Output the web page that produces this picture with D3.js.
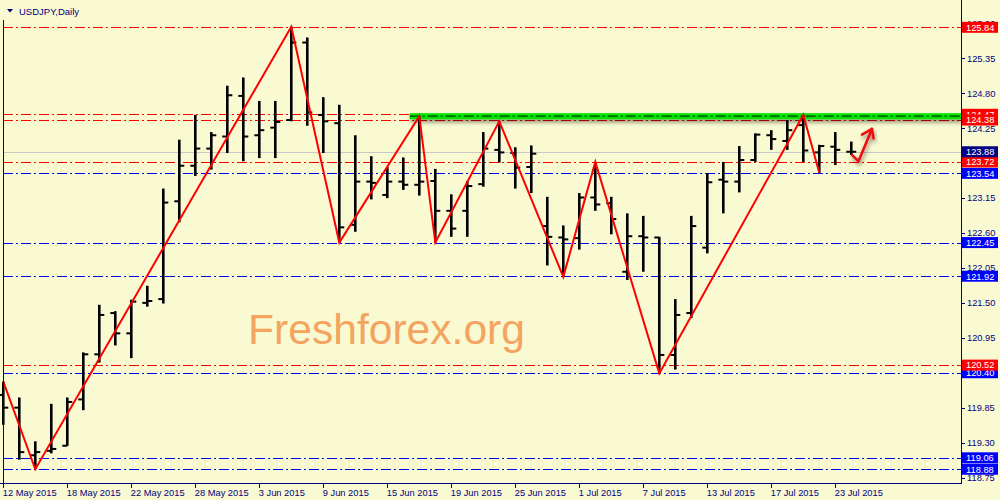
<!DOCTYPE html>
<html>
<head>
<meta charset="utf-8">
<script src="https://cdn.jsdelivr.net/npm/d3@7"></script>
<style>
  body { margin: 0; background: #fafad2; }
  svg { display: block; }
  text { font-family: "Liberation Sans", Arial, sans-serif; }
</style>
</head>
<body>
<svg width="1000" height="500"></svg>
<script>
'use strict';

const dates = [
  "12 May 2015", "13 May 2015", "14 May 2015", "15 May 2015", "18 May 2015", "19 May 2015",
  "20 May 2015", "21 May 2015", "22 May 2015", "25 May 2015", "26 May 2015", "27 May 2015",
  "28 May 2015", "29 May 2015", "1 Jun 2015", "2 Jun 2015", "3 Jun 2015", "4 Jun 2015",
  "5 Jun 2015", "8 Jun 2015", "9 Jun 2015", "10 Jun 2015", "11 Jun 2015", "12 Jun 2015",
  "15 Jun 2015", "16 Jun 2015", "17 Jun 2015", "18 Jun 2015", "19 Jun 2015", "22 Jun 2015",
  "23 Jun 2015", "24 Jun 2015", "25 Jun 2015", "26 Jun 2015", "29 Jun 2015", "30 Jun 2015",
  "1 Jul 2015", "2 Jul 2015", "3 Jul 2015", "6 Jul 2015", "7 Jul 2015", "8 Jul 2015",
  "9 Jul 2015", "10 Jul 2015", "13 Jul 2015", "14 Jul 2015", "15 Jul 2015", "16 Jul 2015",
  "17 Jul 2015", "20 Jul 2015", "21 Jul 2015", "22 Jul 2015", "23 Jul 2015", "24 Jul 2015"
];

const open = [120.05, 119.85, 119.10, 119.17, 119.25, 119.98, 120.69, 121.34, 121.02, 121.50,
  121.56, 123.10, 123.66, 123.93, 124.12, 124.76, 124.14, 124.26, 124.38, 125.60,
  124.46, 124.33, 122.73, 123.41, 123.20, 123.41, 123.36, 123.42, 122.95, 122.95,
  123.37, 123.91, 123.86, 123.64, 122.71, 122.53, 122.52, 123.16, 123.07, 121.99,
  122.55, 122.53, 120.68, 121.34, 122.37, 123.44, 123.41, 123.75, 124.14, 124.05,
  124.30, 123.87, 123.96, 123.88];
const high = [120.26, 120.01, 119.32, 119.91, 120.01, 120.72, 121.47, 121.37, 121.55, 121.77,
  123.30, 124.07, 124.46, 124.19, 124.92, 125.05, 124.68, 124.68, 125.85, 125.68,
  124.74, 124.62, 124.14, 123.81, 123.64, 123.79, 124.44, 123.61, 123.21, 123.42,
  124.19, 124.36, 123.95, 123.98, 123.17, 122.72, 123.23, 123.72, 123.17, 122.91,
  122.87, 122.54, 121.56, 122.87, 123.54, 123.72, 123.97, 124.17, 124.22, 124.38,
  124.46, 123.99, 124.19, 124.04];
const low = [119.58, 119.03, 118.88, 119.13, 119.25, 119.81, 120.56, 120.83, 120.63, 121.44,
  121.49, 122.77, 123.50, 123.60, 123.86, 123.73, 123.78, 123.78, 124.36, 124.29,
  123.86, 122.45, 122.62, 123.13, 123.15, 123.28, 123.19, 122.45, 122.54, 122.54,
  123.33, 123.71, 123.30, 123.23, 122.09, 121.91, 122.34, 122.95, 122.58, 121.86,
  121.99, 120.39, 120.45, 121.26, 122.28, 122.91, 123.24, 123.72, 123.91, 123.91,
  123.72, 123.55, 123.67, 123.83];
const close = [119.85, 119.15, 119.15, 119.20, 119.94, 120.69, 121.31, 121.02, 121.52, 121.53,
  123.08, 123.66, 123.93, 124.14, 124.77, 124.12, 124.22, 124.35, 125.60, 124.50,
  124.36, 122.69, 123.41, 123.39, 123.41, 123.36, 123.41, 122.95, 122.67, 123.34,
  123.93, 123.87, 123.63, 123.85, 122.54, 122.50, 123.16, 123.05, 122.82, 122.55,
  122.53, 120.68, 121.31, 122.71, 123.40, 123.41, 123.75, 124.15, 124.08, 124.22,
  123.90, 123.97, 123.91, 123.88];

// zigzag turning points (bar index, price)
const zzIndex = [0, 2, 18, 21, 26, 27, 31, 35, 37, 41, 50, 51];
const zzPrice = [120.26, 118.88, 125.85, 122.45, 124.44, 122.45, 124.36, 121.91, 123.72, 120.39, 124.46, 123.55];

const redLevels = [125.84, 124.47, 124.38, 123.72, 120.52];
const blueLevels = [123.54, 122.45, 121.92, 120.40, 119.06, 118.88];
const bidPrice = 123.88;
const resistance = 124.44;
const resistanceFrom = 25.4; // bar index where the green band starts

const yTicks = [118.75, 119.30, 119.85, 120.40, 120.95, 121.50, 122.05, 122.60, 123.15, 123.70, 124.25, 124.80, 125.35, 125.90];

// hand drawn arrow (bar index, price)
const arrowIdx = [53.04, 53.45, 54.29];
const arrowPx = [123.83, 123.73, 124.24];
const arrowHeadIdx = [53.67, 54.29, 54.39];
const arrowHeadPx = [124.15, 124.24, 124.09];

const svg = d3.select("svg");
const axisX = 961;
const axisY = 483;
const navy = "#000080";

const x = d3.scaleLinear().domain([0, dates.length - 1]).range([3.3, 3.3 + 16 * (dates.length - 1)]);
const y = d3.scaleLinear().domain([118.75, 125.90]).range([477.5, 23.5]);

const defs = svg.append("defs");
const shadow = defs.append("filter").attr("id", "shadow")
  .attr("x", "-20%").attr("y", "-50%").attr("width", "140%").attr("height", "300%");
shadow.append("feDropShadow")
  .attr("dx", 1).attr("dy", 3).attr("stdDeviation", 2)
  .attr("flood-color", "#000").attr("flood-opacity", 0.45);

svg.append("rect").attr("width", 1000).attr("height", 500).attr("fill", "#fafad2");

// watermark
svg.append("text")
  .attr("x", 248).attr("y", 343.5)
  .attr("fill", "#f4a460")
  .style("font-size", "42.6px")
  .text("Freshforex.org");

// level lines
const dashDot = "10,3,2,3";
svg.append("g").selectAll("line")
  .data(redLevels.map(v => ({v, c: "#ff0000"})).concat(blueLevels.map(v => ({v, c: "#0000ff"}))))
  .join("line")
  .attr("x1", 3).attr("x2", axisX)
  .attr("y1", d => Math.round(y(d.v)) + 0.5).attr("y2", d => Math.round(y(d.v)) + 0.5)
  .attr("stroke", d => d.c)
  .attr("stroke-width", 1)
  .attr("stroke-dasharray", dashDot);

// bid line
svg.append("line")
  .attr("x1", 3).attr("x2", axisX)
  .attr("y1", Math.round(y(bidPrice)) + 0.5).attr("y2", Math.round(y(bidPrice)) + 0.5)
  .attr("stroke", "#c8c8c8");

// green resistance band
const gy = y(resistance);
const band = svg.append("g").attr("filter", "url(#shadow)");
band.append("rect")
  .attr("x", x(resistanceFrom)).attr("width", axisX - x(resistanceFrom))
  .attr("y", gy - 3).attr("height", 6)
  .attr("fill", "#00e400");
svg.append("line")
  .attr("x1", x(resistanceFrom)).attr("x2", axisX)
  .attr("y1", gy).attr("y2", gy)
  .attr("stroke", "#0a3a0a").attr("stroke-width", 1.2)
  .attr("stroke-dasharray", dashDot);

// OHLC bars
const bars = svg.append("g").attr("stroke", "#000");
dates.forEach((d, i) => {
  const cx = x(i);
  bars.append("line")
    .attr("x1", cx).attr("x2", cx)
    .attr("y1", y(high[i])).attr("y2", y(low[i]))
    .attr("stroke-width", 2.6);
  bars.append("line")
    .attr("x1", cx - 5).attr("x2", cx)
    .attr("y1", y(open[i])).attr("y2", y(open[i]))
    .attr("stroke-width", 2);
  bars.append("line")
    .attr("x1", cx).attr("x2", cx + 5)
    .attr("y1", y(close[i])).attr("y2", y(close[i]))
    .attr("stroke-width", 2);
});

// zigzag
svg.append("path")
  .datum(zzIndex.map((d, i) => [d, zzPrice[i]]))
  .attr("fill", "none")
  .attr("stroke", "#ff0000")
  .attr("stroke-width", 2)
  .attr("d", d3.line().x(d => x(d[0])).y(d => y(d[1])));

// red arrow
const arrow = svg.append("g").attr("filter", "url(#shadow)")
  .attr("fill", "none").attr("stroke", "#ee1111").attr("stroke-width", 2.6)
  .attr("stroke-linecap", "round").attr("stroke-linejoin", "round");
const lineIdx = d3.line().x(d => x(d[0])).y(d => y(d[1]));
arrow.append("path").attr("d", lineIdx(arrowIdx.map((d, i) => [d, arrowPx[i]])));
arrow.append("path").attr("d", lineIdx(arrowHeadIdx.map((d, i) => [d, arrowHeadPx[i]])));

// axes
svg.append("line").attr("x1", axisX + 0.5).attr("x2", axisX + 0.5).attr("y1", 0).attr("y2", axisY)
  .attr("stroke", navy);
svg.append("line").attr("x1", 0).attr("x2", axisX + 1).attr("y1", axisY + 0.5).attr("y2", axisY + 0.5)
  .attr("stroke", navy);
svg.append("line").attr("x1", 3.5).attr("x2", 3.5).attr("y1", 20).attr("y2", axisY)
  .attr("stroke", navy);

const yt = svg.append("g");
yt.selectAll("line").data(yTicks).join("line")
  .attr("x1", axisX).attr("x2", axisX + 4)
  .attr("y1", d => Math.round(y(d)) + 0.5).attr("y2", d => Math.round(y(d)) + 0.5)
  .attr("stroke", navy);
yt.selectAll("text").data(yTicks).join("text")
  .attr("x", 967).attr("y", d => y(d) + 3.3)
  .attr("fill", navy)
  .style("font-size", "9.3px")
  .text(d => d.toFixed(2));

const xTicks = dates.map((d, i) => i).filter(i => i % 4 === 0);
const xt = svg.append("g");
xt.selectAll("line").data(xTicks).join("line")
  .attr("x1", i => Math.round(x(i)) + 0.5).attr("x2", i => Math.round(x(i)) + 0.5)
  .attr("y1", axisY).attr("y2", axisY + 5)
  .attr("stroke", navy);
xt.selectAll("text").data(xTicks).join("text")
  .attr("x", i => x(i) - 0.5).attr("y", 495.5)
  .attr("fill", navy)
  .style("font-size", "9.3px")
  .text(i => dates[i]);

// price labels on the right
function priceLabel(v, bg) {
  const g = svg.append("g");
  g.append("rect")
    .attr("x", 962).attr("y", y(v) - 5.5)
    .attr("width", 36).attr("height", 11)
    .attr("fill", bg);
  g.append("text")
    .attr("x", 966).attr("y", y(v) + 3.3)
    .attr("fill", "#fff")
    .style("font-size", "9.3px")
    .text(v.toFixed(2));
}
blueLevels.forEach(v => priceLabel(v, "#0000ff"));
redLevels.forEach(v => priceLabel(v, "#ff0000"));
priceLabel(bidPrice, "#000080");

// title
svg.append("path").attr("d", "M7,9 L13,9 L10,12.5 Z").attr("fill", navy);
svg.append("text")
  .attr("x", 19).attr("y", 14.5)
  .attr("fill", navy)
  .style("font-size", "9.5px")
  .text("USDJPY,Daily");
</script>
</body>
</html>
